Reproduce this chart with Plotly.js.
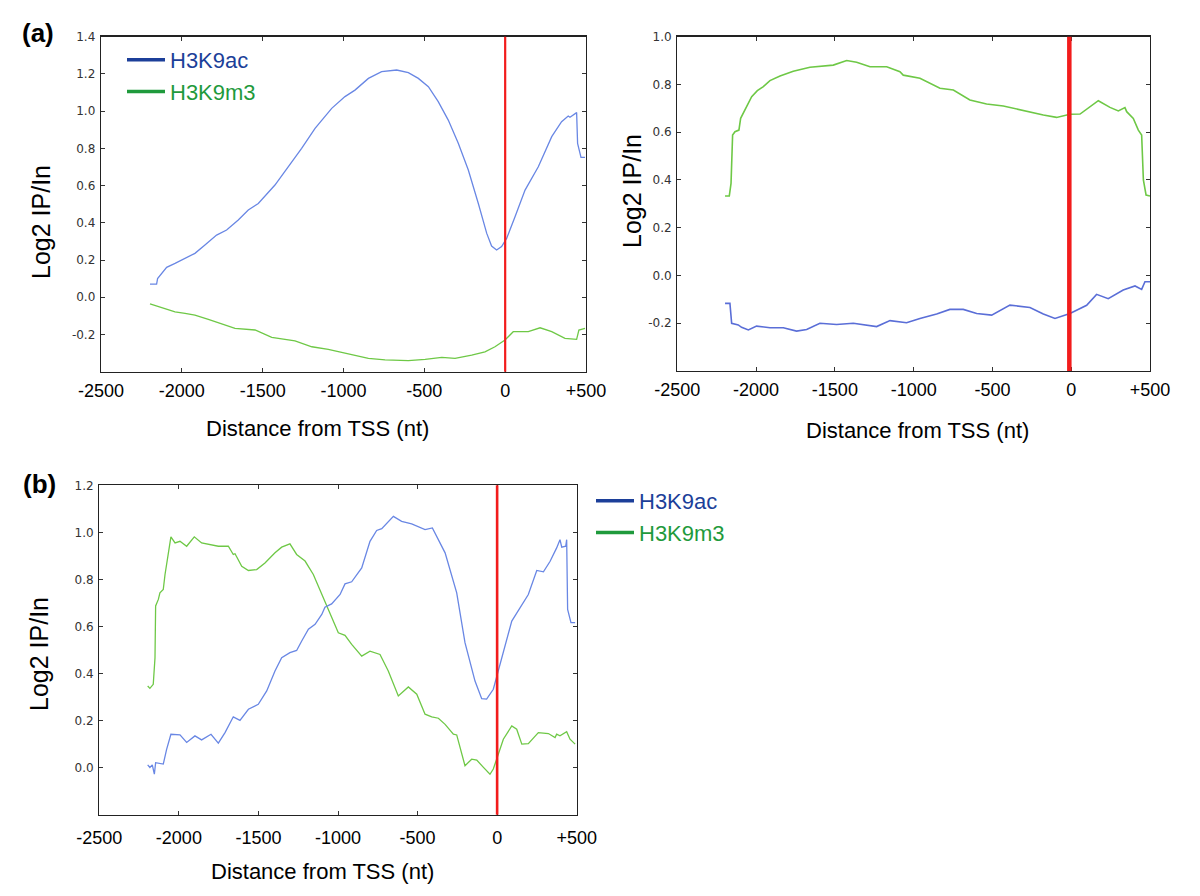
<!DOCTYPE html>
<html><head><meta charset="utf-8">
<script src="https://cdn.plot.ly/plotly-3.0.1.min.js"></script>
<style>html,body{margin:0;padding:0;background:#fff}#chart{width:1200px;height:896px}</style>
</head><body><div id="chart"></div>
<script>
// ---------- shared ticks ----------
const distTicks = [-2500, -2000, -1500, -1000, -500, 0, 500];
const distTickLabels = ['-2500', '-2000', '-1500', '-1000', '-500', '0', '+500'];

const yTicksA1 = [-0.4, -0.2, 0.0, 0.2, 0.4, 0.6, 0.8, 1.0, 1.2, 1.4];
const yTickLabelsA1 = ['', '-0.2', '0.0', '0.2', '0.4', '0.6', '0.8', '1.0', '1.2', '1.4'];
const yTicksA2 = [-0.4, -0.2, 0.0, 0.2, 0.4, 0.6, 0.8, 1.0];
const yTickLabelsA2 = ['', '-0.2', '0.0', '0.2', '0.4', '0.6', '0.8', '1.0'];
const yTicksB = [-0.2, 0.0, 0.2, 0.4, 0.6, 0.8, 1.0, 1.2];
const yTickLabelsB = ['', '0.0', '0.2', '0.4', '0.6', '0.8', '1.0', '1.2'];

const seriesNames = ['H3K9ac', 'H3K9m3'];
const tssLineX = [0, -12, 0]; // red TSS marker per panel

// ---------- panel (a) left ----------
const a1AcX = [-2197,-2156,-2150,-2094,-2042,-1991,-1919,-1857,-1785,-1723,-1651,-1589,-1527,-1424,-1341,-1259,-1176,-1073,-991,-929,-846,-764,-671,-599,-537,-475,-414,-352,-290,-228,-166,-114,-84,-53,-22,9,61,123,205,288,349,390,401,442,448,469,494];
const a1AcY = [0.071,0.071,0.100,0.161,0.182,0.204,0.236,0.281,0.334,0.361,0.415,0.469,0.504,0.603,0.701,0.800,0.907,1.015,1.078,1.113,1.176,1.212,1.221,1.207,1.176,1.131,1.051,0.952,0.827,0.684,0.504,0.343,0.275,0.254,0.272,0.316,0.433,0.576,0.701,0.863,0.943,0.974,0.967,0.992,0.827,0.752,0.752];
const a1MeX = [-2197,-2166,-2152,-2125,-2042,-1980,-1919,-1836,-1754,-1671,-1547,-1444,-1300,-1196,-1094,-970,-846,-743,-599,-495,-392,-310,-207,-125,-63,-1,50,143,216,288,370,442,456,494];
const a1MeY = [-0.036,-0.044,-0.050,-0.054,-0.078,-0.087,-0.096,-0.119,-0.144,-0.167,-0.176,-0.216,-0.234,-0.266,-0.280,-0.305,-0.328,-0.337,-0.341,-0.334,-0.323,-0.328,-0.311,-0.293,-0.266,-0.230,-0.185,-0.185,-0.164,-0.185,-0.221,-0.226,-0.176,-0.167];

// ---------- panel (a) right ----------
const a2MeX = [-2197,-2170,-2159,-2149,-2134,-2109,-2098,-2071,-2049,-2028,-1992,-1954,-1912,-1848,-1764,-1658,-1510,-1425,-1362,-1277,-1171,-1087,-1066,-960,-833,-748,-643,-537,-431,-325,-262,-177,-93,-8,56,119,172,246,299,341,352,394,426,447,458,475,500];
const a2MeY = [0.333,0.333,0.386,0.588,0.602,0.609,0.658,0.693,0.728,0.749,0.774,0.791,0.816,0.835,0.855,0.872,0.881,0.900,0.893,0.874,0.874,0.853,0.839,0.826,0.784,0.777,0.735,0.718,0.710,0.693,0.686,0.672,0.662,0.675,0.676,0.707,0.732,0.704,0.689,0.703,0.686,0.658,0.609,0.588,0.400,0.337,0.333];
const a2AcX = [-2197,-2166,-2155,-2113,-2092,-2049,-1997,-1912,-1827,-1743,-1679,-1595,-1489,-1383,-1235,-1150,-1045,-960,-854,-770,-685,-600,-505,-389,-262,-177,-103,-8,98,161,235,330,405,447,468,500];
const a2AcY = [-0.117,-0.117,-0.200,-0.207,-0.217,-0.228,-0.212,-0.219,-0.219,-0.233,-0.226,-0.200,-0.205,-0.200,-0.214,-0.189,-0.198,-0.180,-0.161,-0.142,-0.142,-0.159,-0.166,-0.124,-0.134,-0.161,-0.180,-0.159,-0.125,-0.079,-0.097,-0.061,-0.044,-0.058,-0.026,-0.026];

// ---------- panel (b) ----------
const bMeX = [-2196,-2182,-2161,-2150,-2146,-2129,-2119,-2098,-2087,-2066,-2050,-2024,-1993,-1951,-1903,-1857,-1804,-1752,-1689,-1658,-1647,-1605,-1563,-1511,-1459,-1396,-1354,-1302,-1260,-1207,-1155,-1102,-1050,-998,-956,-914,-851,-799,-736,-684,-621,-558,-505,-453,-411,-369,-327,-275,-254,-202,-160,-128,-86,-45,-24,8,39,92,123,155,196,259,322,364,374,395,437,458,490];
const bMeY = [0.347,0.337,0.354,0.467,0.687,0.715,0.743,0.757,0.821,0.906,0.981,0.955,0.962,0.941,0.981,0.955,0.948,0.941,0.941,0.906,0.909,0.856,0.838,0.842,0.870,0.913,0.937,0.951,0.906,0.878,0.821,0.736,0.651,0.573,0.562,0.524,0.474,0.495,0.481,0.411,0.305,0.343,0.312,0.227,0.216,0.210,0.184,0.142,0.139,0.008,0.036,0.032,0.001,-0.028,-0.006,0.064,0.121,0.177,0.163,0.100,0.102,0.149,0.145,0.128,0.142,0.135,0.153,0.121,0.100];
const bAcX = [-2196,-2182,-2167,-2154,-2146,-2119,-2098,-2077,-2050,-1993,-1951,-1899,-1857,-1798,-1752,-1710,-1658,-1616,-1563,-1501,-1448,-1396,-1354,-1302,-1260,-1228,-1186,-1144,-1102,-1082,-1040,-987,-956,-914,-851,-799,-757,-725,-652,-600,-537,-453,-407,-327,-254,-202,-139,-97,-66,-24,-3,29,92,196,249,291,333,374,395,406,431,437,443,464,490];
const bAcY = [0.012,0.001,0.012,-0.028,0.021,0.017,0.015,0.078,0.142,0.139,0.107,0.135,0.118,0.142,0.104,0.149,0.216,0.201,0.248,0.269,0.326,0.411,0.467,0.489,0.498,0.538,0.588,0.609,0.651,0.682,0.696,0.736,0.781,0.790,0.849,0.962,1.008,1.016,1.068,1.047,1.036,1.012,1.019,0.913,0.743,0.531,0.368,0.293,0.291,0.333,0.385,0.467,0.623,0.736,0.838,0.832,0.877,0.934,0.969,0.937,0.941,0.969,0.672,0.616,0.616];

// ---------- styling ----------
const acLine = 'rgb(105,135,228)';
const meLine = 'rgb(110,200,70)';
const acLegend = '#1c3f99';
const meLegend = '#1f9a3c';
const sans = 'Liberation Sans, Arial, Helvetica, sans-serif';
const tickSans = 'DejaVu Sans, sans-serif';

function line(x, y, color, xa, ya, w) {
  return {x: x, y: y, type: 'scatter', mode: 'lines', xaxis: xa, yaxis: ya,
          line: {color: color, width: w}, showlegend: false, hoverinfo: 'skip'};
}
function legendEntry(i, color, lg, xa, ya) {
  return {x: [null], y: [null], type: 'scatter', mode: 'lines', xaxis: xa, yaxis: ya,
          name: '<span style="color:' + color + '">' + seriesNames[i] + '</span>',
          line: {color: color, width: 3.5}, showlegend: true, legend: lg};
}

const data = [
  line(a1AcX, a1AcY, acLine, 'x', 'y', 1.3),
  line(a1MeX, a1MeY, meLine, 'x', 'y', 1.3),
  line(a2MeX, a2MeY, meLine, 'x2', 'y2', 1.6),
  line(a2AcX, a2AcY, 'rgb(90,110,215)', 'x2', 'y2', 1.6),
  line(bMeX, bMeY, meLine, 'x3', 'y3', 1.3),
  line(bAcX, bAcY, acLine, 'x3', 'y3', 1.3),
  legendEntry(0, acLegend, 'legend', 'x', 'y'),
  legendEntry(1, meLegend, 'legend', 'x', 'y'),
  legendEntry(0, acLegend, 'legend2', 'x3', 'y3'),
  legendEntry(1, meLegend, 'legend2', 'x3', 'y3')
];

function xAxis(domain, anchor, standoff) {
  return {domain: domain, anchor: anchor, range: [-2500, 500], tickmode: 'array',
          tickvals: distTicks, ticktext: distTickLabels, ticks: 'inside', ticklen: 4,
          tickcolor: '#333', mirror: 'allticks', showline: true, linecolor: '#222', linewidth: 1.3,
          showgrid: false, zeroline: false, ticklabelstandoff: standoff,
          tickfont: {family: sans, size: 18, color: '#000'}, fixedrange: true};
}
function yAxis(domain, anchor, range, vals, labels) {
  return {domain: domain, anchor: anchor, range: range, tickmode: 'array',
          tickvals: vals, ticktext: labels, ticks: 'inside', ticklen: 4,
          tickcolor: '#333', mirror: 'allticks', showline: true, linecolor: '#222', linewidth: 1.3,
          showgrid: false, zeroline: false, ticklabelstandoff: 2,
          tickfont: {family: tickSans, size: 12, color: '#333'}, fixedrange: true};
}
function px(x) { return x / 1200; }
function py(y) { return 1 - y / 896; }
function note(text, x, y, size, opts) {
  return Object.assign({text: text, xref: 'paper', yref: 'paper', x: px(x), y: py(y),
          xanchor: 'center', yanchor: 'middle', showarrow: false,
          font: {family: sans, size: size, color: '#000'}}, opts || {});
}
function tss(i, xa, ya, w) {
  return {type: 'line', xref: xa, yref: ya + ' domain', x0: tssLineX[i], x1: tssLineX[i], y0: 0, y1: 1,
          line: {color: '#f21c1c', width: w}, layer: 'above'};
}

const layout = {
  width: 1200, height: 896,
  margin: {l: 0, r: 0, t: 0, b: 0},
  paper_bgcolor: '#fff', plot_bgcolor: '#fff',
  xaxis: xAxis([px(101), px(586)], 'y', 2),
  yaxis: yAxis([py(371.7), py(36.7)], 'x', [-0.4, 1.4], yTicksA1, yTickLabelsA1),
  xaxis2: xAxis([px(677.3), px(1150)], 'y2', 2),
  yaxis2: yAxis([py(371), py(36.7)], 'x2', [-0.4, 1.0], yTicksA2, yTickLabelsA2),
  xaxis3: xAxis([px(99.3), px(576.7)], 'y3', 6),
  yaxis3: yAxis([py(814.7), py(485.3)], 'x3', [-0.2, 1.2], yTicksB, yTickLabelsB),
  shapes: [tss(0, 'x', 'y', 2.2), tss(1, 'x2', 'y2', 4.5), tss(2, 'x3', 'y3', 2.6)],
  legend: {x: px(122), y: py(39), xanchor: 'left', yanchor: 'top', bgcolor: 'rgba(0,0,0,0)',
           font: {family: sans, size: 22}, itemwidth: 38, tracegroupgap: 0},
  legend2: {x: px(591), y: py(480), xanchor: 'left', yanchor: 'top', bgcolor: 'rgba(0,0,0,0)',
           font: {family: sans, size: 22}, itemwidth: 38, tracegroupgap: 0},
  annotations: [
    note('<b>(a)</b>', 38, 33, 26),
    note('<b>(b)</b>', 39, 484, 26),
    note('Log2 IP/In', 41, 222, 25, {textangle: -90}),
    note('Log2 IP/In', 632, 191, 25, {textangle: -90}),
    note('Log2 IP/In', 39, 654, 25, {textangle: -90}),
    note('Distance from TSS (nt)', 317, 428, 22),
    note('Distance from TSS (nt)', 917, 430, 22),
    note('Distance from TSS (nt)', 322, 871, 22)
  ],
  hovermode: false
};

Plotly.newPlot('chart', data, layout, {staticPlot: true, displayModeBar: false});
</script>
</body></html>
